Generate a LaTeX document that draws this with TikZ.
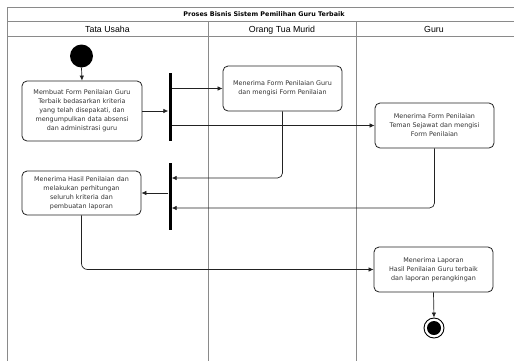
\documentclass[tikz,border=0pt]{standalone}
\usepackage{fontspec}
\setmainfont{DejaVu Sans}
\newfontfamily\hdrfont{Liberation Sans}
\usetikzlibrary{arrows.meta}
\definecolor{lanegray}{HTML}{8A8A8A}
\definecolor{txtgray}{HTML}{333333}
\definecolor{linedark}{HTML}{222222}
\tikzset{
  lane/.style={draw=lanegray, line width=0.9pt},
  act/.style={draw=linedark, line width=0.8pt, rounded corners=5pt, align=center,
    inner sep=0pt, text=txtgray, font=\fontsize{6.4}{9}\selectfont},
  forkbar/.style={fill=black, draw=none, inner sep=0pt, minimum width=3pt},
  conn/.style={draw=linedark, line width=0.7pt, -{Latex[length=5pt,width=4.5pt]}},
  hdr/.style={font=\hdrfont\fontsize{8.8}{10}\selectfont, text=black, inner sep=0pt, anchor=base},
}
\begin{document}
\begin{tikzpicture}[x=1pt,y=-1pt]
\clip (0,0) rectangle (514,360);
\useasboundingbox (0,0) rectangle (514,360);
\fill[white] (0,0) rectangle (514,360);
% swimlane frame
\draw[lane] (7,7) -- (530,7);
\draw[lane] (7,21) -- (530,21);
\draw[lane] (7,36) -- (530,36);
\draw[lane] (7,7) -- (7,370);
\draw[lane] (208,21) -- (208,370);
\draw[lane] (356,21) -- (356,370);
\node[font=\bfseries\fontsize{6.4}{8}\selectfont, inner sep=0pt, anchor=base] (title) at (264,16.8) {Proses Bisnis Sistem Pemilihan Guru Terbaik};
\node[hdr] (h1) at (107.5,32.2) {Tata Usaha};
\node[hdr] (h2) at (282,32.2) {Orang Tua Murid};
\node[hdr] (h3) at (434,32.2) {Guru};
% start
\node[circle, fill=black, minimum size=23pt, inner sep=0pt] (start) at (81.5,56) {};
% activities
\node[act, minimum width=120pt, minimum height=60pt] (a1) at (82,111)
  {Membuat Form Penilaian Guru\\Terbaik bedasarkan kriteria\\yang telah disepakati, dan\\mengumpulkan data absensi\\dan administrasi guru};
\node[act, minimum width=119pt, minimum height=45pt] (a2) at (282.5,88.5)
  {Menerima Form Penilaian Guru\\dan mengisi Form Penilaian};
\node[act, minimum width=119pt, minimum height=45pt] (a3) at (434.5,125.5)
  {Menerima Form Penilaian\\Teman Sejawat dan mengisi\\Form Penilaian};
\node[act, minimum width=119pt, minimum height=44pt] (a4) at (81.5,193)
  {Menerima Hasil Penilaian dan\\melakukan perhitungan\\seluruh kriteria dan\\pembuatan laporan};
\node[act, minimum width=119pt, minimum height=45pt] (a5) at (433.5,269.5)
  {Menerima Laporan\\Hasil Penilaian Guru terbaik\\dan laporan perangkingan};
% fork / join bars
\node[forkbar, minimum height=68pt] (b1) at (170,107) {};
\node[forkbar, minimum height=67pt] (b2) at (170,196.5) {};
% end
\node[circle, draw=black, line width=0.9pt, fill=white, minimum size=20pt, inner sep=0pt] (end) at (434,328) {};
\node[circle, fill=black, minimum size=14pt, inner sep=0pt] (endin) at (end.center) {};
% helper coordinates
\coordinate (j1) at (170,178);
\coordinate (j2) at (170,208);
% connectors
\draw[conn] (start.south) -- (a1.north);
\draw[conn] (a1.east) -- (a1.east -| b1.west);
\draw[conn] (b1.east |- a2.west) -- (a2.west);
\draw[conn] (b1.east |- a3.west) -- (a3.west);
\draw[conn, rounded corners=5pt] (a2.south) |- (j1 -| b2.east);
\draw[conn, rounded corners=5pt] (a3.south) |- (j2 -| b2.east);
\draw[conn] (b2.west |- a4.east) -- (a4.east);
\draw[conn, rounded corners=6pt] (a4.south) |- (a5.west);
\draw[conn] (a5.south) -- (end.north);
\end{tikzpicture}
\end{document}
